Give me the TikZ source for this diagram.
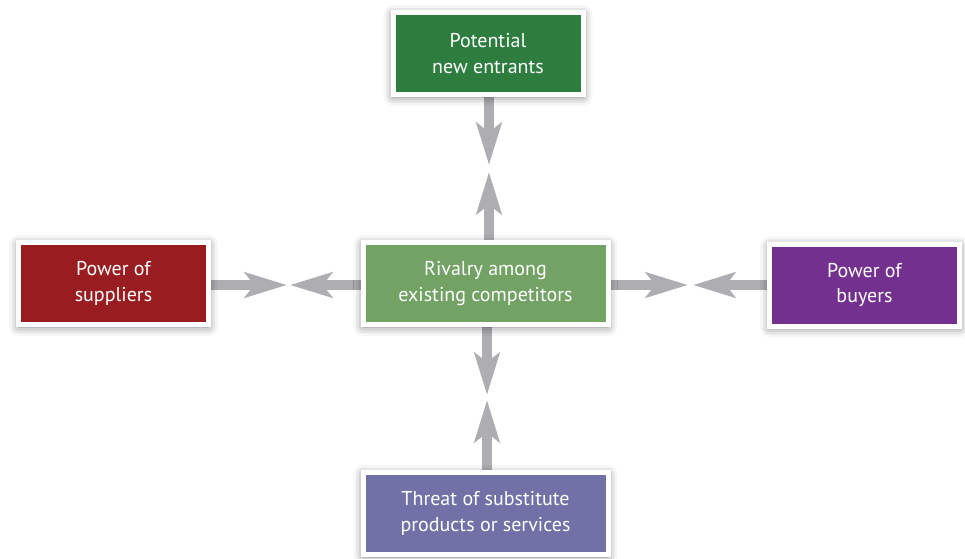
\documentclass[tikz,border=0pt]{standalone}
\usepackage{fontspec}
\setmainfont{PT Sans}
\usepackage{xcolor}
\usepackage{tikz}
\usetikzlibrary{
  positioning,
  calc,
  arrows.meta,
  shadows.blur
}
\definecolor{entrantgreen}{HTML}{2D7D3F}
\definecolor{supplierred}{HTML}{991D20}
\definecolor{rivalgreen}{HTML}{73A265}
\definecolor{buyerpurple}{HTML}{73308E}
\definecolor{substblue}{HTML}{7171A8}
\definecolor{pushgray}{HTML}{AEAEB2}
\pgfdeclarelayer{bg}
\pgfsetlayers{bg,main}

\begin{document}
\begin{tikzpicture}[x=0.75pt,y=-0.75pt,
  force/.style={draw=white,line width=3.75pt,text=white,align=center,
    minimum height=61.5pt,inner sep=0pt,
    font=\fontsize{15}{19}\selectfont,
    blur shadow={shadow xshift=0pt,shadow yshift=-1.5pt,
      shadow blur radius=7pt,shadow opacity=55}},
  smallbox/.style={force,minimum width=142.5pt},
  widebox/.style={force,minimum width=183.75pt},
  push/.style={draw=pushgray,line width=7.5pt,
    -{Stealth[length=31.5pt,width=18.75pt,inset=7pt]}}]
  % frame
  \useasboundingbox (0,0) rectangle (965,558);
  % forces
  \node[smallbox,fill=entrantgreen] (entrants) at (488,53.5) {Potential\\new entrants};
  \node[smallbox,fill=supplierred] (suppliers) at (113.5,283.5) {Power of\\suppliers};
  \node[widebox,fill=rivalgreen] (rivalry) at (485.5,283.5) {Rivalry among\\existing competitors};
  \node[smallbox,fill=buyerpurple] (buyers) at (864.5,285) {Power of\\buyers};
  \node[widebox,fill=substblue] (substitutes) at (485.5,513.5) {Threat of substitute\\products or services};
  % arrow tips
  \coordinate (tip-sl) at (287,285);
  \coordinate (tip-sr) at (290,285);
  \coordinate (tip-bl) at (688,285);
  \coordinate (tip-br) at (693,285);
  \coordinate (tip-et) at (489,165);
  \coordinate (tip-eb) at (489,172);
  \coordinate (tip-tt) at (487,395);
  \coordinate (tip-tb) at (487,400);
  % arrows
  \begin{pgfonlayer}{bg}
    \draw[push] (suppliers.east |- tip-sl) -- (tip-sl);
    \draw[push] (rivalry.west |- tip-sr) -- (tip-sr);
    \draw[push] (rivalry.east |- tip-bl) -- (tip-bl);
    \draw[push] (buyers.west |- tip-br) -- (tip-br);
    \draw[push] (tip-et |- entrants.south) -- (tip-et);
    \draw[push] (tip-eb |- rivalry.north) -- (tip-eb);
    \draw[push] (tip-tt |- rivalry.south) -- (tip-tt);
    \draw[push] (tip-tb |- substitutes.north) -- (tip-tb);
  \end{pgfonlayer}
\end{tikzpicture}
\end{document}
